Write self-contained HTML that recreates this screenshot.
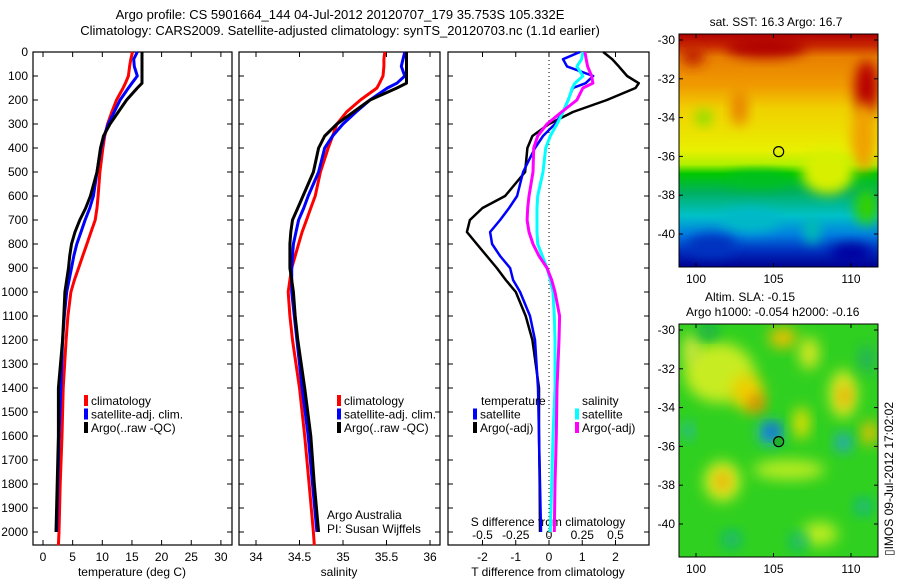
<!DOCTYPE html>
<html><head><meta charset="utf-8"><style>
html,body{margin:0;padding:0;background:#fff;}
svg{display:block;font-family:"Liberation Sans",sans-serif;}
</style></head><body>
<svg id="chart" width="900" height="580" viewBox="0 0 900 580" xmlns="http://www.w3.org/2000/svg">
<defs>
<filter id="blur6" x="-50%" y="-50%" width="200%" height="200%"><feGaussianBlur stdDeviation="6"/></filter>
<filter id="blur4" x="-50%" y="-50%" width="200%" height="200%"><feGaussianBlur stdDeviation="7"/></filter>
<clipPath id="clipTop"><rect x="679" y="34" width="199" height="233"/></clipPath>
<clipPath id="clipBot"><rect x="679" y="324" width="199" height="233"/></clipPath>
<linearGradient id="sstGrad" x1="0" y1="0" x2="0" y2="1">
<stop offset="0" stop-color="#b00000"/><stop offset="0.05" stop-color="#c82800"/>
<stop offset="0.1" stop-color="#e88000"/><stop offset="0.22" stop-color="#f09a00"/>
<stop offset="0.32" stop-color="#f0d000"/><stop offset="0.5" stop-color="#e8f000"/>
<stop offset="0.56" stop-color="#b0f000"/><stop offset="0.6" stop-color="#00c800"/>
<stop offset="0.68" stop-color="#00b060"/><stop offset="0.78" stop-color="#00c0c8"/>
<stop offset="0.86" stop-color="#0080e0"/><stop offset="0.93" stop-color="#0030c0"/><stop offset="1" stop-color="#000090"/>
</linearGradient>
</defs>
<g id="root"></g>
</svg>
<script>
// ---- profile data ----
const depths = [0,30,60,100,130,150,200,250,300,350,400,500,600,650,700,750,800,850,900,950,1000,1100,1200,1400,1600,1800,2000];
const climDepths = [0,30,60,100,130,150,200,250,300,350,400,500,600,650,700,750,800,850,900,950,1000,1100,1200,1400,1600,1800,2000,2055];
const tempClim = [15.1,14.8,14.6,14.4,13.9,13.5,12.4,11.6,10.9,10.4,10.1,9.6,9.3,9.1,8.8,8.1,7.4,6.7,6.0,5.3,4.7,4.2,3.9,3.4,3.2,2.9,2.7,2.6];
const tempSat = [15.9,15.3,15.4,15.9,15.0,14.4,13.0,12.0,11.0,10.3,9.8,9.1,8.5,7.9,7.1,6.4,5.7,5.2,4.8,4.4,4.0,3.6,3.3,3.0,2.7,2.5,2.3];
const tempArgo = [16.7,16.7,16.7,16.7,16.7,15.9,14.1,12.7,11.3,10.2,9.7,9.1,8.0,7.2,6.2,5.4,4.8,4.5,4.3,4.0,3.7,3.5,3.3,2.6,2.6,2.4,2.2];
const salClim = [35.48,35.47,35.47,35.46,35.42,35.39,35.2,35.04,34.93,34.88,34.83,34.74,34.68,34.63,34.58,34.53,34.49,34.45,34.41,34.39,34.37,34.39,34.42,34.5,34.56,34.61,34.66,34.67];
const salSat = [35.71,35.69,35.67,35.71,35.62,35.51,35.31,35.15,35.0,34.88,34.79,34.72,34.60,34.55,34.49,34.46,34.43,34.42,34.41,34.41,34.41,34.44,34.47,34.53,34.6,34.65,34.70];
const salArgo = [35.73,35.73,35.73,35.73,35.73,35.62,35.31,35.12,34.93,34.79,34.72,34.66,34.54,34.48,34.42,34.40,34.39,34.39,34.39,34.41,34.43,34.45,34.48,34.56,34.63,34.67,34.72];
const dTempSat = [0.93,0.42,0.54,1.33,1.1,0.72,0.57,0.42,0.18,-0.18,-0.42,-0.78,-0.96,-1.2,-1.47,-1.77,-1.71,-1.47,-1.17,-1.08,-0.87,-0.57,-0.42,-0.33,-0.3,-0.27,-0.24];
const dTempArgo = [1.63,1.9,2.1,2.35,2.7,2.6,1.74,0.72,0.0,-0.5,-0.65,-0.72,-1.32,-2.0,-2.38,-2.47,-2.17,-1.87,-1.57,-1.3,-1.0,-0.7,-0.5,-0.3,-0.3,-0.28,-0.27];
const dSalSat = [0.255,0.245,0.21,0.255,0.195,0.175,0.145,0.105,0.06,0.01,-0.025,-0.045,-0.085,-0.09,-0.09,-0.09,-0.085,-0.05,-0.015,0.01,0.03,0.04,0.045,0.045,0.03,0.02,0.01];
const dSalArgo = [0.27,0.28,0.29,0.32,0.33,0.255,0.21,0.095,-0.015,-0.085,-0.115,-0.12,-0.15,-0.16,-0.165,-0.15,-0.12,-0.075,-0.015,0.02,0.045,0.08,0.075,0.06,0.055,0.045,0.04];
const depthTicks = [0,100,200,300,400,500,600,700,800,900,1000,1100,1200,1300,1400,1500,1600,1700,1800,1900,2000];
const tempTicks = [0,5,10,15,20,25,30];
const salTicks = [34,34.5,35,35.5,36];
const salTickLabels = ["34","34.5","35","35.5","36"];
const dTempTicks = [-2,-1,0,1,2];
const dSalTicks = [-0.5,-0.25,0,0.25,0.5];
const dSalTickLabels = ["-0.5","-0.25","0","0.25","0.5"];
const latTicks = [-30,-32,-34,-36,-38,-40];
const lonTicks = [100,105,110];
const argoLon = 105.332, argoLat = -35.753;

const NS = "http://www.w3.org/2000/svg";
const root = document.getElementById('root');
function mk(tag, attrs, parent){const e=document.createElementNS(NS,tag);for(const k in attrs)e.setAttribute(k,attrs[k]);(parent||root).appendChild(e);return e;}
function txt(x,y,s,anchor,size,parent){const t=mk('text',{x:x,y:y,'font-size':size||12,'text-anchor':anchor||'start',fill:'#000'},parent);t.textContent=s;return t;}

// scales
const yD = d => 52 + d*0.24;
const xT = t => 43 + 5.93*t;
const xS = s => 256 + 87*(s-34);
const xDT = v => 549 + 33.25*v;
const xDS = v => 549 + 133*v;
const PT=52, PB=545;
const panels = [{x0:33,x1:232,name:'temperature-panel'},{x0:239,x1:440,name:'salinity-panel'},{x0:448,x1:649,name:'difference-panel'}];

let t1 = txt(340,19,"Argo profile: CS 5901664_144 04-Jul-2012 20120707_179 35.753S 105.332E","middle",13);


let t2 = txt(340,35,"Climatology: CARS2009. Satellite-adjusted climatology: synTS_20120703.nc (1.1d earlier)","middle",13);



panels.forEach(p=>{
  const g = mk('g',{});
  
  
  const r = mk('rect',{x:p.x0,y:PT,width:p.x1-p.x0,height:PB-PT,fill:'none',stroke:'#000','stroke-width':1.2},g);
  
  
  depthTicks.forEach(d=>{
    mk('line',{x1:p.x0,x2:p.x0+5,y1:yD(d),y2:yD(d),stroke:'#000'},g);
    mk('line',{x1:p.x1-5,x2:p.x1,y1:yD(d),y2:yD(d),stroke:'#000'},g);
  });
  p.g=g;
});
depthTicks.forEach(d=>{
  const l = txt(28,yD(d)+4,String(d),"end",12);
  
  
});
function xticks(vals,labels,sc,p,ly){
  vals.forEach((v,i)=>{
    const x=sc(v);
    mk('line',{x1:x,x2:x,y1:PT,y2:PT+5,stroke:'#000'},p.g);
    mk('line',{x1:x,x2:x,y1:PB-5,y2:PB,stroke:'#000'},p.g);
    const l=txt(x,ly,labels[i],"middle",12);
    
    
  });
}
xticks(tempTicks,tempTicks.map(String),xT,panels[0],561);
xticks(salTicks,salTickLabels,xS,panels[1],561);
xticks(dTempTicks,dTempTicks.map(String),xDT,panels[2],561);
dSalTicks.forEach((v,i)=>{
  const l=txt(xDS(v),539,dSalTickLabels[i],"middle",12);
  
  
});
let a1=txt(132,576,"temperature (deg C)","middle",12);


let a2=txt(339,576,"salinity","middle",12);


let a3=txt(548,576,"T difference from climatology","middle",12);


let a4=txt(548,526,"S difference from climatology","middle",12);



const zl = mk('line',{x1:xDT(0),x2:xDT(0),y1:PT,y2:PB,stroke:'#000','stroke-dasharray':'1,3'});



function series(vals,ds,sc,color,name,w){
  const pts = vals.map((v,i)=>sc(v).toFixed(1)+','+yD(ds[i]).toFixed(1)).join(' ');
  const pl = mk('polyline',{points:pts,fill:'none',stroke:color,'stroke-width':w||3,'stroke-linejoin':'round'});
  
  
}
series(tempClim,climDepths,xT,'#ff0000','temp-climatology-line');
series(tempSat,depths,xT,'#0000ff','temp-satellite-line');
series(tempArgo,depths,xT,'#000000','temp-argo-line');
series(salClim,climDepths,xS,'#ff0000','salinity-climatology-line');
series(salSat,depths,xS,'#0000ff','salinity-satellite-line');
series(salArgo,depths,xS,'#000000','salinity-argo-line');
series(dTempArgo,depths,xDT,'#000000','t-diff-argo-line',2.5);
series(dTempSat,depths,xDT,'#0000ff','t-diff-satellite-line',2.5);
series(dSalSat,depths,xDS,'#00ffff','s-diff-satellite-line',3);
series(dSalArgo,depths,xDS,'#ff00ff','s-diff-argo-line',3);

function legend(x,y,color,label){
  const g=mk('g',{});
  
  
  mk('rect',{x:x,y:y-10,width:4,height:11,fill:color},g);
  txt(x+7,y,label,"start",12,g);
}
[[84,'#ff0000','climatology'],[84,'#0000ff','satellite-adj. clim.'],[84,'#000000','Argo(..raw -QC)']].forEach((e,i)=>legend(e[0],405+i*13.5,e[1],e[2]));
[[337,'#ff0000','climatology'],[337,'#0000ff','satellite-adj. clim.'],[337,'#000000','Argo(..raw -QC)']].forEach((e,i)=>legend(e[0],405+i*13.5,e[1],e[2]));
let lt=txt(481,405,"temperature","start",12);


let ls=txt(582,405,"salinity","start",12);


legend(473,418.5,'#0000ff','satellite');
legend(473,432,'#000000','Argo(-adj)');
legend(575,418.5,'#00ffff','satellite');
legend(575,432,'#ff00ff','Argo(-adj)');
let c1=txt(327,519,"Argo Australia","start",12);


let c2=txt(327,533,"PI: Susan Wijffels","start",12);



// ---- maps ----
const xL = lon => 696 + 15.5*(lon-100);
const yLatTop = lat => 40 + 19.4*(-30-lat);
const yLatBot = lat => 330 + 19.4*(-30-lat);

const gT=mk('g',{'clip-path':'url(#clipTop)'});


mk('rect',{x:679,y:34,width:199,height:233,fill:'url(#sstGrad)'},gT);
const sstBlobs=[[111,-32.5,12,28,'#b80000'],[104.5,-30.4,40,10,'#b00000'],[99.8,-30.8,12,10,'#c02000'],[100.5,-34,8,8,'#80e000'],[102.8,-33.5,8,18,'#e88000'],[110.8,-35,12,35,'#f0a000'],[108.5,-36.8,26,22,'#d8f000'],[111,-38.6,12,18,'#30d000'],[104,-37.2,30,8,'#00c020'],[103.5,-39.3,30,12,'#00b8c8'],[101,-40.6,25,12,'#0030c0'],[110,-41,20,10,'#0000a0'],[107.5,-39.8,8,14,'#00c0b0']];
sstBlobs.forEach(b=>{mk('ellipse',{cx:xL(b[0]),cy:yLatTop(b[1]),rx:b[2],ry:b[3],fill:b[4],filter:'url(#blur6)'},gT);});
const frT=mk('rect',{x:679,y:34,width:199,height:233,fill:'none',stroke:'#000'});


const ciT=mk('circle',{cx:xL(argoLon),cy:yLatTop(argoLat),r:5,fill:'none',stroke:'#000','stroke-width':1.2});



const gB=mk('g',{'clip-path':'url(#clipBot)'});


mk('rect',{x:679,y:324,width:199,height:233,fill:'#30d020'},gB);
const slaBlobs=[[101.5,-32.2,35,30,'#c8ec20'],[103.3,-33.2,16,18,'#f0d000'],[103.9,-33.8,8,9,'#e88000'],[105.6,-30.4,14,10,'#f0c000'],[107.3,-31.2,10,16,'#d8e820'],[109.5,-33.3,14,24,'#d8e820'],[109.6,-33.4,6,10,'#f0a000'],[111.2,-35.3,8,12,'#f0c000'],[106.8,-34.8,8,16,'#e8e000'],[101.7,-37.8,18,20,'#d8ec20'],[101.7,-37.8,7,9,'#f0a000'],[99.7,-31,8,16,'#d8e840'],[106,-37.2,36,10,'#b8ec20'],[108,-40.5,18,12,'#b8ec20'],[104.8,-35.3,12,12,'#20a0e0'],[104.9,-35.2,6,6,'#0040d0'],[109.5,-35.8,8,9,'#20a0e0'],[99.5,-35.2,5,8,'#20b0d0'],[110.8,-39.1,8,8,'#10b0a0'],[102.3,-40.8,9,8,'#10b090'],[106.6,-40.9,8,8,'#10b090'],[100.8,-30.1,10,6,'#10a060'],[111,-31.5,8,14,'#20b060']];
slaBlobs.forEach(b=>{mk('ellipse',{cx:xL(b[0]),cy:yLatBot(b[1]),rx:b[2],ry:b[3],fill:b[4],filter:'url(#blur4)'},gB);});
const frB=mk('rect',{x:679,y:324,width:199,height:233,fill:'none',stroke:'#000'});


const ciB=mk('circle',{cx:xL(argoLon),cy:yLatBot(argoLat),r:5,fill:'#20b030',stroke:'#000','stroke-width':1.2});



[[yLatTop,34,267,283],[yLatBot,324,557,573]].forEach(m=>{
  latTicks.forEach(la=>{
    const y=m[0](la);
    mk('line',{x1:679,x2:683,y1:y,y2:y,stroke:'#000'});
    mk('line',{x1:874,x2:878,y1:y,y2:y,stroke:'#000'});
    const l=txt(675,y+4,String(la),"end",12);
    
    
  });
  lonTicks.forEach(lo=>{
    const x=xL(lo);
    mk('line',{x1:x,x2:x,y1:m[1],y2:m[1]+4,stroke:'#000'});
    mk('line',{x1:x,x2:x,y1:m[2]-4,y2:m[2],stroke:'#000'});
    const l=txt(x,m[3],String(lo),"middle",12);
    
    
  });
});
let mt1=txt(776,26,"sat. SST: 16.3 Argo: 16.7","middle",12);


let mt2=txt(705,301,"Altim. SLA: -0.15","start",12);


let mt3=txt(686,316,"Argo h1000: -0.054 h2000: -0.16","start",12);


let im=txt(0,0,"\u25AFIMOS 09-Jul-2012 17:02:02","start",12);
im.setAttribute('transform','translate(893,556) rotate(-90)');


</script>
</body></html>
